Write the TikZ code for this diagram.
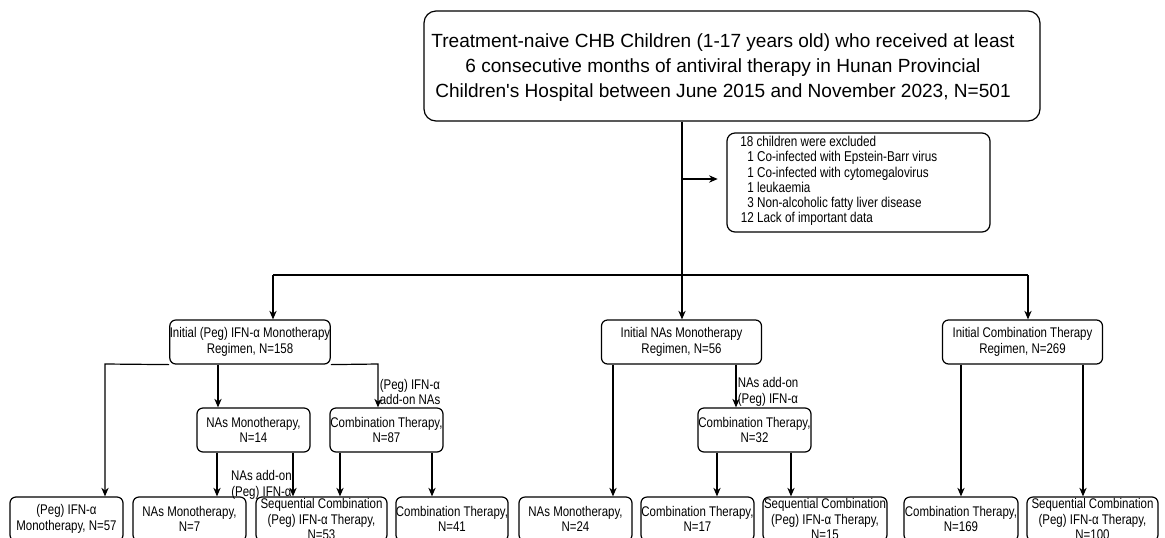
\documentclass[tikz,border=0pt]{standalone}
\usepackage{fontspec}
\setmainfont{Liberation Sans}
\newfontfamily\topf{Liberation Sans}[Ligatures=TeXOff]
\newfontfamily\nf{Liberation Sans}[FakeStretch=0.82]
\usetikzlibrary{arrows.meta}
\begin{document}
\begin{tikzpicture}[x=0.75pt,y=-0.75pt,
  box/.style={draw,rounded corners=4.5pt,line width=0.9pt,inner sep=0pt,align=center,
    minimum height=33pt,font=\nf\fontsize{10.5}{11.7}\selectfont},
  arr/.style={-{Stealth[length=6.5pt,width=5.5pt]},line width=0.9pt},
  ln/.style={line width=0.9pt},
  lbl/.style={inner sep=0pt,font=\nf\fontsize{10.5}{11.7}\selectfont}]
\useasboundingbox (0,0) rectangle (1165,537);
\fill[white] (0,0) rectangle (1165,537);
\clip (0,0) rectangle (1165,537);

% top
\node[draw,rounded corners=9pt,line width=0.9pt,minimum width=462pt,minimum height=82.5pt] (top) at (732,66) {};
\node[inner sep=0pt,align=center,font=\topf\fontsize{14.3}{18.75}\selectfont] (toptxt) at (723,68)
 {Treatment-naive CHB Children (1-17 years old) who received at least\\
  6 consecutive months of antiviral therapy in Hunan Provincial\\
  Children's Hospital between June 2015 and November 2023, N=501};

% exclusion
\node[draw,rounded corners=6pt,line width=0.9pt,minimum width=197.25pt,minimum height=74.25pt] (excl) at (858.5,182.5) {};
\node[lbl,anchor=west,align=left,font=\nf\fontsize{10.7}{11.4}\selectfont] (excltxt) at (740,181)
 {18 children were excluded\\
  \makebox[0.95em][r]{1} Co-infected with Epstein-Barr virus\\
  \makebox[0.95em][r]{1} Co-infected with cytomegalovirus\\
  \makebox[0.95em][r]{1} leukaemia\\
  \makebox[0.95em][r]{3} Non-alcoholic fatty liver disease\\
  \makebox[0.95em][r]{12} Lack of important data};

% level 1
\node[box,minimum width=120pt] (L1) at (250,342) {Initial (Peg) IFN-α Monotherapy\\Regimen, N=158};
\node[box,minimum width=120pt] (M1) at (681.5,342) {Initial NAs Monotherapy\\Regimen, N=56};
\node[box,minimum width=120pt] (R1) at (1022.5,342) {Initial Combination Therapy\\Regimen, N=269};

% level 2
\node[box,minimum width=84.75pt] (N14) at (253.5,430) {NAs Monotherapy,\\N=14};
\node[box,minimum width=84.75pt] (N87) at (386.5,430) {Combination Therapy,\\N=87};
\node[box,minimum width=84.75pt] (N32) at (754.5,430) {Combination Therapy,\\N=32};

% level 3
\node[box,minimum width=84.75pt] (b1) at (66.5,519) {(Peg) IFN-α\\Monotherapy, N=57};
\node[box,minimum width=84.75pt] (b2) at (189.5,519) {NAs Monotherapy,\\N=7};
\node[box,minimum width=98.25pt] (b3) at (321.5,519) {Sequential Combination\\(Peg) IFN-α Therapy,\\N=53};
\node[box,minimum width=84pt] (b4) at (452,519) {Combination Therapy,\\N=41};
\node[box,minimum width=84.75pt] (b5) at (575.5,519) {NAs Monotherapy,\\N=24};
\node[box,minimum width=84.75pt] (b6) at (697.5,519) {Combination Therapy,\\N=17};
\node[box,minimum width=93pt] (b7) at (825,519) {Sequential Combination\\(Peg) IFN-α Therapy,\\N=15};
\node[box,minimum width=85.5pt] (b8) at (961,519) {Combination Therapy,\\N=169};
\node[box,minimum width=98.25pt] (b9) at (1092.5,519) {Sequential Combination\\(Peg) IFN-α Therapy,\\N=100};

% trunk
\coordinate (sp) at (682,275);
\coordinate (ex) at (682,179);
\coordinate (hl) at (273,275);
\coordinate (hr) at (1028,275);
\draw[ln] (top.south -| sp) -- (sp);
\draw[arr,shorten >=6.5pt] (ex) -- (excl.west |- ex);
\draw[ln] (hl) -- (hr);
\draw[arr] (hl) -- (L1.north -| hl);
\draw[arr] (sp) -- (M1.north -| sp);
\draw[arr] (hr) -- (R1.north -| hr);

% L1 branches
\coordinate (c1) at (105,364);
\coordinate (x2) at (218,0);
\coordinate (c3) at (378,364);
\draw[arr] (L1.south west) -- (c1) -- (b1.north -| c1);
\draw[arr] (L1.south -| x2) -- (N14.north -| x2);
\draw[arr] (L1.south east) -- (c3) -- (N87.north -| c3);
\node[lbl,anchor=west,align=left] (lab1) at (379.5,392) {(Peg) IFN-α\\add-on NAs};

% N14 branches
\coordinate (x4) at (217,0);
\coordinate (x5) at (293,0);
\draw[arr] (N14.south -| x4) -- (b2.north -| x4);
\draw[arr] (N14.south -| x5) -- (b3.north -| x5);
\node[lbl,anchor=east,align=center] (lab2) at (292,485) {NAs add-on\\(Peg) IFN-α};

% N87 branches
\coordinate (x6) at (340,0);
\coordinate (x7) at (432,0);
\draw[arr] (N87.south -| x6) -- (b3.north -| x6);
\draw[arr] (N87.south -| x7) -- (b4.north -| x7);

% M1 branches
\coordinate (x8) at (613,0);
\coordinate (x9) at (736,0);
\draw[arr] (M1.south -| x8) -- (b5.north -| x8);
\draw[arr] (M1.south -| x9) -- (N32.north -| x9);
\node[lbl,anchor=west,align=left] (lab3) at (737.5,392) {NAs add-on\\(Peg) IFN-α};

% N32 branches
\coordinate (x10) at (717,0);
\coordinate (x11) at (791,0);
\draw[arr] (N32.south -| x10) -- (b6.north -| x10);
\draw[arr] (N32.south -| x11) -- (b7.north -| x11);

% R1 branches
\coordinate (x12) at (961,0);
\coordinate (x13) at (1083,0);
\draw[arr] (R1.south -| x12) -- (b8.north -| x12);
\draw[arr] (R1.south -| x13) -- (b9.north -| x13);
\end{tikzpicture}
\end{document}
